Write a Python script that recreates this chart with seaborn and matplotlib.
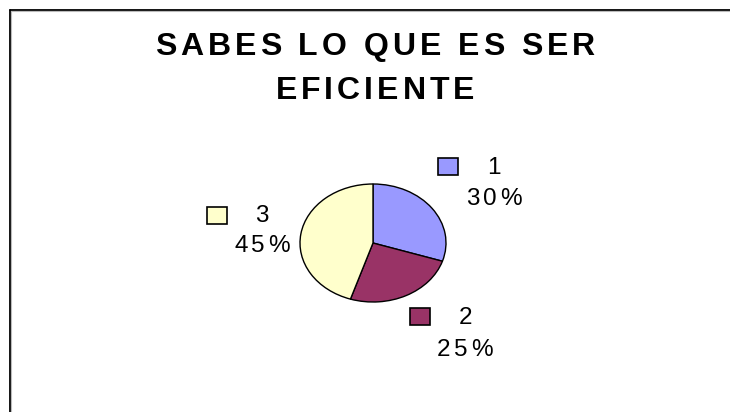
"""
Pie chart: "SABES LO QUE ES SER EFICIENTE" survey answers.
"""

import matplotlib

matplotlib.use("Agg")

import matplotlib.pyplot as plt
import seaborn as sns
from matplotlib import font_manager, ft2font
from matplotlib.lines import Line2D
from matplotlib.patches import Rectangle
from matplotlib.transforms import IdentityTransform


TITLE_LINES = ["SABES LO QUE ES SER", "EFICIENTE"]
answers = ["1", "2", "3"]
shares = [30, 25, 45]
slice_colors = ["#9999FF", "#993366", "#FFFFCC"]

W, H, DPI = 730, 412, 100
FONT = ["Liberation Sans", "DejaVu Sans"]

# pixel layout (from top-left) for each answer label: square centre, text centre x,
# baselines of the answer line and the percentage line
LABEL_LAYOUT = {
    "1": dict(square=(447.5, 166), text_x=494, base1=174, base2=205),
    "2": dict(square=(420, 316.5), text_x=465, base1=324.5, base2=355.5),
    "3": dict(square=(216.5, 215), text_x=262, base1=222.5, base2=251.5),
}


def advances(text, prop):
    font = ft2font.FT2Font(font_manager.findfont(prop))
    font.set_size(prop.get_size_in_points(), DPI)
    return [font.load_char(ord(ch)).linearHoriAdvance / 65536 for ch in text]


def spaced_text(fig, text, cx, baseline, size, tracking, weight="normal"):
    """Draw text centred on cx with extra letter spacing (pixel coords from top)."""
    prop = font_manager.FontProperties(family=FONT, size=size, weight=weight)
    adv = advances(text, prop)
    total = sum(adv) + tracking * (len(text) - 1)
    x = cx - total / 2
    for ch, a in zip(text, adv):
        if ch != " ":
            fig.text(x, H - baseline, ch, fontproperties=prop, va="baseline",
                     ha="left", color="black", transform=IdentityTransform())
        x += a + tracking


sns.set_theme(style="white")
plt.rcParams["font.family"] = FONT

fig = plt.figure(figsize=(W / DPI, H / DPI), dpi=DPI)
fig.patch.set_facecolor("white")

# chart frame (left and top edges visible)
px = IdentityTransform()
fig.add_artist(Line2D([9.5, 9.5], [0, H - 9.5], color="black", lw=1.3, transform=px))
fig.add_artist(Line2D([9.5, W], [H - 9.5, H - 9.5], color="black", lw=1.3, transform=px))
fig.add_artist(Line2D([11, 11], [0, H - 11], color="#bbbbbb", lw=0.8, transform=px))
fig.add_artist(Line2D([11, W], [H - 11, H - 11], color="#bbbbbb", lw=0.8, transform=px))

# title
spaced_text(fig, TITLE_LINES[0], 375, 55, 23, 4.0, weight="bold")
spaced_text(fig, TITLE_LINES[1], 375, 99, 23, 4.0, weight="bold")

# elliptical pie
cx, cy, rx, ry, pad = 373, 243, 73, 59, 1.05
ax = fig.add_axes([
    (cx - rx * pad) / W, (H - cy - ry * pad) / H,
    2 * rx * pad / W, 2 * ry * pad / H,
])
palette = sns.color_palette(slice_colors)
ax.pie(
    shares,
    colors=palette,
    startangle=90,
    counterclock=False,
    wedgeprops={"edgecolor": "black", "linewidth": 1.0},
)
ax.set_aspect("auto")
ax.set_xlim(-pad, pad)
ax.set_ylim(-pad, pad)
ax.axis("off")

# labels with colour keys
total = sum(shares)
for name, value, color in zip(answers, shares, palette):
    lay = LABEL_LAYOUT[name]
    sx, sy = lay["square"]
    fig.add_artist(Rectangle((sx - 10, H - sy - 8.5), 20, 17, facecolor=color,
                             edgecolor="black", lw=1.2, transform=px))
    spaced_text(fig, name, lay["text_x"], lay["base1"], 17.5, 3.5)
    spaced_text(fig, f"{value / total * 100:.0f}%", lay["text_x"], lay["base2"], 17.5, 3.5)

fig.savefig("out.png", dpi=DPI)
